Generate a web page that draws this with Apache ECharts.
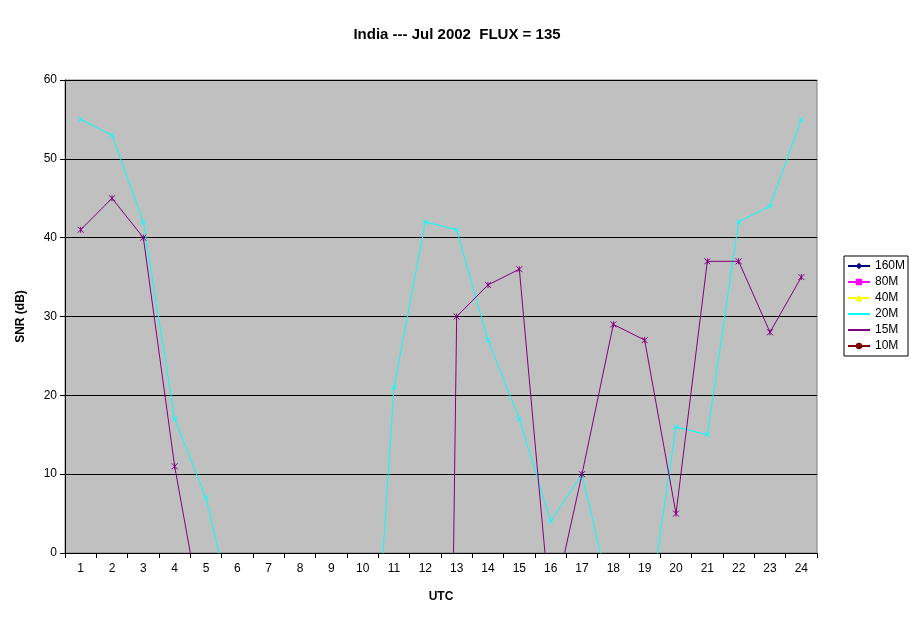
<!DOCTYPE html><html><head><meta charset="utf-8"><script src="https://cdn.jsdelivr.net/npm/echarts@6/dist/echarts.min.js"></script></head><body style="margin:0;background:#fff"><div id="c" style="width:911px;height:623px"></div><script>
const hours=['1','2','3','4','5','6','7','8','9','10','11','12','13','14','15','16','17','18','19','20','21','22','23','24'];
const s20M=[55,53,42,17,7,-10,-10,-10,-10,-39,21,42,41,27,17,4,10,-7,-11,16,15,42,44,55];
const s15M=[41,45,40,11,-11,-20,-20,-20,-20,-200,-200,-270,30,34,36,-8,10,29,27,5,37,37,28,35];
const yTicks=[0,10,20,30,40,50,60];
const F='Liberation Sans, Arial, sans-serif';
const ch=echarts.init(document.getElementById('c'));
const empty=(n,c,sym)=>({name:n,type:'line',data:[],symbol:sym,itemStyle:{color:c},lineStyle:{color:c}});
ch.setOption({
title:{text:'India --- Jul 2002  FLUX = 135',left:452,top:22,textAlign:'center',textStyle:{fontFamily:F,fontSize:15,fontWeight:'bold',color:'#000'}},
grid:{left:65,right:94,top:80,bottom:70,backgroundColor:'#c0c0c0',show:true,borderColor:'#808080',borderWidth:1},
legend:{orient:'vertical',left:844,top:256,itemGap:4,itemWidth:22,itemHeight:8,backgroundColor:'#fff',borderColor:'#000',borderWidth:1,padding:[4,3],textStyle:{fontFamily:F,fontSize:12,color:'#000'},data:['160M','80M','40M','20M','15M','10M']},
xAxis:{type:'category',data:hours,boundaryGap:true,name:'UTC',nameLocation:'middle',nameGap:38,nameTextStyle:{fontFamily:F,fontWeight:'bold',fontSize:12,color:'#000'},axisLine:{lineStyle:{color:'#000'}},axisTick:{show:true,inside:false,lineStyle:{color:'#000'}},axisLabel:{fontFamily:F,fontSize:12,color:'#000',margin:10}},
yAxis:{type:'value',min:0,max:60,interval:10,name:'SNR (dB)',nameLocation:'middle',nameGap:38,nameTextStyle:{fontFamily:F,fontWeight:'bold',fontSize:12,color:'#000'},axisLine:{show:true,lineStyle:{color:'#000'}},axisTick:{show:true,lineStyle:{color:'#000'}},axisLabel:{fontFamily:F,fontSize:12,color:'#000',customValues:yTicks},splitLine:{lineStyle:{color:'#000'}}},
series:[empty('160M','#000080','diamond'),empty('80M','#ff00ff','rect'),empty('40M','#ffff00','triangle'),
{name:'20M',type:'line',data:s20M,clip:true,symbol:'path://M0,0L10,10M10,0L0,10',symbolSize:5,itemStyle:{color:'#00ffff',borderColor:'#00ffff'},lineStyle:{color:'#00ffff',width:1}},
{name:'15M',type:'line',data:s15M,clip:true,symbol:'path://M0,0L10,10M10,0L0,10M5,0L5,10',symbolSize:6,itemStyle:{color:'#800080',borderColor:'#800080'},lineStyle:{color:'#800080',width:1}},
empty('10M','#800000','circle')]
});
</script></body></html>
